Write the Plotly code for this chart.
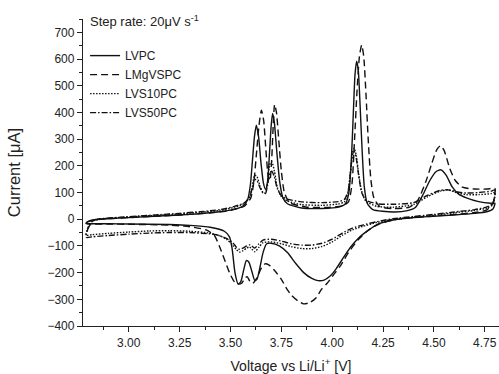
import plotly.graph_objects as go

# ---------------- data ----------------
# LVPC (solid)
lvpc_v = [2.790, 2.800, 2.830, 2.900, 3.000, 3.100, 3.200, 3.300, 3.400, 3.500, 3.560, 3.585, 3.598, 3.608,
          3.618, 3.627, 3.638, 3.650, 3.662, 3.672, 3.682, 3.692, 3.700, 3.707, 3.716, 3.728, 3.742, 3.758,
          3.780, 3.850, 3.950, 4.030, 4.065, 4.082, 4.094, 4.104, 4.112, 4.120, 4.128, 4.137, 4.147, 4.158,
          4.172, 4.200, 4.300, 4.370, 4.410, 4.445, 4.480, 4.510, 4.535, 4.560, 4.590, 4.620, 4.660, 4.720,
          4.780, 4.800,
          4.790, 4.760, 4.700, 4.600, 4.500, 4.400, 4.300, 4.220, 4.180, 4.130, 4.090, 4.050, 4.020, 3.990,
          3.960, 3.930, 3.900, 3.860, 3.820, 3.780, 3.740, 3.700, 3.678, 3.660, 3.645, 3.630, 3.619, 3.605,
          3.590, 3.578, 3.565, 3.550, 3.537, 3.522, 3.508, 3.495, 3.470, 3.400, 3.300, 3.200, 3.000, 2.900,
          2.820, 2.795, 2.790]
lvpc_i = [-14, -8, -2, 2, 6, 10, 14, 18, 24, 34, 48, 75, 130, 220,
          310, 352, 310, 210, 135, 112, 140, 250, 350, 396, 360, 250, 140, 80,
          58, 42, 40, 45, 58, 100, 220, 400, 540, 592, 560, 430, 260, 120,
          60, 36, 27, 32, 45, 90, 145, 178, 185, 165, 121, 95, 80, 66,
          60, 60,
          38, 28, 22, 16, 11, 6, -3, -20, -40, -70, -105, -150, -185, -213,
          -228, -230, -222, -200, -165, -125, -100, -90, -92, -125, -180, -225, -229, -195,
          -160, -155, -190, -235, -242, -200, -110, -66, -45, -30, -23, -20, -18, -17,
          -17, -16, -14]

# LMgVSPC (dashed)
lmg_v = [2.790, 2.800, 2.830, 2.900, 3.000, 3.100, 3.200, 3.300, 3.400, 3.500, 3.570, 3.600, 3.615, 3.627,
         3.640, 3.652, 3.663, 3.674, 3.685, 3.694, 3.703, 3.710, 3.717, 3.726, 3.738, 3.750, 3.765, 3.790,
         3.870, 3.970, 4.050, 4.080, 4.097, 4.110, 4.122, 4.134, 4.145, 4.155, 4.166, 4.177, 4.190, 4.205,
         4.235, 4.300, 4.380, 4.420, 4.460, 4.490, 4.515, 4.532, 4.550, 4.578, 4.605, 4.640, 4.700, 4.760,
         4.800,
         4.790, 4.760, 4.700, 4.600, 4.500, 4.400, 4.300, 4.230, 4.180, 4.130, 4.080, 4.040, 4.010, 3.975,
         3.947, 3.920, 3.890, 3.860, 3.830, 3.800, 3.780, 3.750, 3.720, 3.690, 3.670, 3.650, 3.630, 3.610,
         3.595, 3.582, 3.570, 3.555, 3.540, 3.520, 3.495, 3.470, 3.445, 3.420, 3.380, 3.300, 3.200, 3.000,
         2.900, 2.820, 2.795, 2.790]
lmg_i = [-16, -10, -3, 2, 6, 10, 14, 18, 24, 33, 50, 80, 140, 240,
         350, 408, 370, 260, 165, 145, 230, 350, 430, 400, 290, 180, 100, 62,
         46, 44, 50, 65, 130, 300, 480, 610, 652, 610, 470, 300, 150, 80,
         47, 40, 45, 70, 140, 210, 262, 275, 258, 190, 145, 120, 113, 113,
         115,
         60, 35, 25, 18, 12, 6, -3, -18, -40, -75, -125, -175, -205, -240,
         -263, -295, -312, -317, -305, -285, -265, -225, -195, -172, -167, -185, -220, -240,
         -232, -215, -222, -240, -243, -235, -200, -150, -100, -60, -40, -28, -22, -19,
         -18, -18, -17, -16]

# LVS10PC (dotted)
lvs10_v = [2.790, 2.800, 2.820, 2.850, 2.950, 3.050, 3.150, 3.250, 3.350, 3.450, 3.520, 3.570, 3.595, 3.608,
           3.619, 3.630, 3.645, 3.660, 3.672, 3.683, 3.693, 3.703, 3.716, 3.730, 3.750, 3.780, 3.850, 3.950,
           4.030, 4.060, 4.078, 4.090, 4.100, 4.108, 4.118, 4.130, 4.145, 4.165, 4.220, 4.300, 4.400, 4.470,
           4.530, 4.570, 4.610, 4.660, 4.720, 4.780, 4.800,
           4.790, 4.760, 4.700, 4.600, 4.500, 4.400, 4.300, 4.220, 4.150, 4.100, 4.050, 4.000, 3.950, 3.900,
           3.850, 3.800, 3.750, 3.700, 3.660, 3.640, 3.619, 3.605, 3.594, 3.580, 3.562, 3.545, 3.530, 3.512,
           3.480, 3.440, 3.400, 3.300, 3.200, 3.100, 3.000, 2.900, 2.820, 2.790]
lvs10_i = [-60, -30, -8, 0, 6, 11, 15, 20, 26, 33, 45, 60, 85, 125,
           165, 160, 125, 100, 98, 140, 205, 215, 180, 120, 85, 68, 55, 52,
           57, 65, 100, 180, 250, 266, 240, 170, 105, 68, 48, 45, 55, 85,
           105, 110, 100, 92, 92, 96, 100,
           55, 42, 33, 24, 15, 8, 0, -12, -27, -40, -60, -85, -102, -110,
           -110, -103, -92, -85, -88, -105, -122, -112, -104, -108, -118, -123, -115, -98,
           -75, -60, -52, -45, -43, -44, -48, -53, -58, -60]

# LVS50PC (dash-dot)
lvs50_v = [2.790, 2.800, 2.820, 2.850, 2.950, 3.050, 3.150, 3.250, 3.350, 3.450, 3.520, 3.570, 3.595, 3.608,
           3.619, 3.630, 3.645, 3.660, 3.672, 3.683, 3.693, 3.703, 3.716, 3.730, 3.750, 3.780, 3.850, 3.950,
           4.030, 4.060, 4.078, 4.090, 4.100, 4.108, 4.118, 4.130, 4.145, 4.165, 4.220, 4.300, 4.400, 4.470,
           4.530, 4.570, 4.610, 4.660, 4.720, 4.780, 4.800,
           4.790, 4.760, 4.700, 4.600, 4.500, 4.400, 4.300, 4.220, 4.150, 4.100, 4.050, 4.000, 3.950, 3.900,
           3.850, 3.800, 3.750, 3.700, 3.660, 3.640, 3.619, 3.605, 3.594, 3.580, 3.562, 3.545, 3.530, 3.512,
           3.480, 3.440, 3.400, 3.300, 3.200, 3.100, 3.000, 2.900, 2.820, 2.790]
lvs50_i = [-68, -35, -10, 0, 7, 12, 17, 22, 28, 36, 48, 62, 85, 120,
           150, 145, 118, 98, 96, 130, 172, 180, 158, 115, 88, 75, 65, 62,
           66, 74, 105, 175, 240, 255, 230, 165, 100, 72, 58, 56, 62, 90,
           108, 110, 103, 98, 100, 105, 110,
           60, 46, 36, 27, 18, 10, 2, -9, -22, -33, -52, -75, -90, -97,
           -97, -92, -82, -75, -78, -92, -108, -100, -96, -100, -108, -113, -106, -88,
           -72, -60, -55, -50, -50, -52, -56, -61, -66, -68]

names = ["LVPC", "LMgVSPC", "LVS10PC", "LVS50PC"]
x_ticks = [3.00, 3.25, 3.50, 3.75, 4.00, 4.25, 4.50, 4.75]
y_ticks = [-400, -300, -200, -100, 0, 100, 200, 300, 400, 500, 600, 700]

# ---------------- figure ----------------
FONT = "Liberation Sans, Arial, sans-serif"
dashes = ["solid", "7px,4px", "1.5px,1.5px", "6px,2px,1.5px,2px"]
series = [(lvpc_v, lvpc_i), (lmg_v, lmg_i), (lvs10_v, lvs10_i), (lvs50_v, lvs50_i)]

fig = go.Figure()
for (v, i), nm, d in zip(series, names, dashes):
    fig.add_trace(go.Scatter(
        x=v, y=i, mode="lines", name=nm,
        line=dict(color="#111111", width=1.4, dash=d, shape="spline", smoothing=0.6),
    ))

fig.update_layout(
    width=499, height=374,
    margin=dict(l=83, r=0, t=19, b=48, autoexpand=False),
    paper_bgcolor="white", plot_bgcolor="white",
    font=dict(family=FONT, color="#222222", size=12),
    showlegend=True,
    legend=dict(x=0.005, y=0.928, xanchor="left", yanchor="top",
                bgcolor="rgba(0,0,0,0)", font=dict(size=12, family=FONT),
                tracegroupgap=0, itemwidth=30),
)

fig.update_xaxes(
    range=[2.775, 4.82], tickvals=x_ticks, ticktext=[f"{t:.2f}" for t in x_ticks],
    automargin=False,
    showline=True, linecolor="#222222", linewidth=1.3, mirror=False,
    ticks="outside", ticklen=5, tickwidth=1.2, tickcolor="#222222",
    minor=dict(ticks="outside", ticklen=3, tickwidth=1, tickcolor="#222222", dtick=0.125, tick0=2.875),
    showgrid=False, zeroline=False,
    tickfont=dict(size=12, family=FONT),
    title=dict(text="Voltage vs Li/Li<sup>+</sup> [V]", font=dict(size=14, family=FONT), standoff=14),
)
fig.update_yaxes(
    range=[-400, 750], tickvals=y_ticks,
    automargin=False,
    showline=True, linecolor="#222222", linewidth=1.3, mirror=False,
    ticks="outside", ticklen=5, tickwidth=1.2, tickcolor="#222222",
    minor=dict(ticks="outside", ticklen=3, tickwidth=1, tickcolor="#222222", dtick=50, tick0=-350),
    showgrid=False, zeroline=False,
    tickfont=dict(size=12, family=FONT),
    title=dict(text="Current [μA]", font=dict(size=16.5, family=FONT), standoff=22),
)

fig.add_annotation(
    xref="paper", yref="paper", x=0.012, y=0.995, xanchor="left", yanchor="middle",
    text="Step rate: 20μV s<sup>-1</sup>", showarrow=False,
    font=dict(size=13, family=FONT, color="#222222"),
)

# the page's default body margin would shift the 499x374 figure; remove it
fig.write_html("out.html", config={"displayModeBar": False},
               post_script="document.body.style.margin='0';")
